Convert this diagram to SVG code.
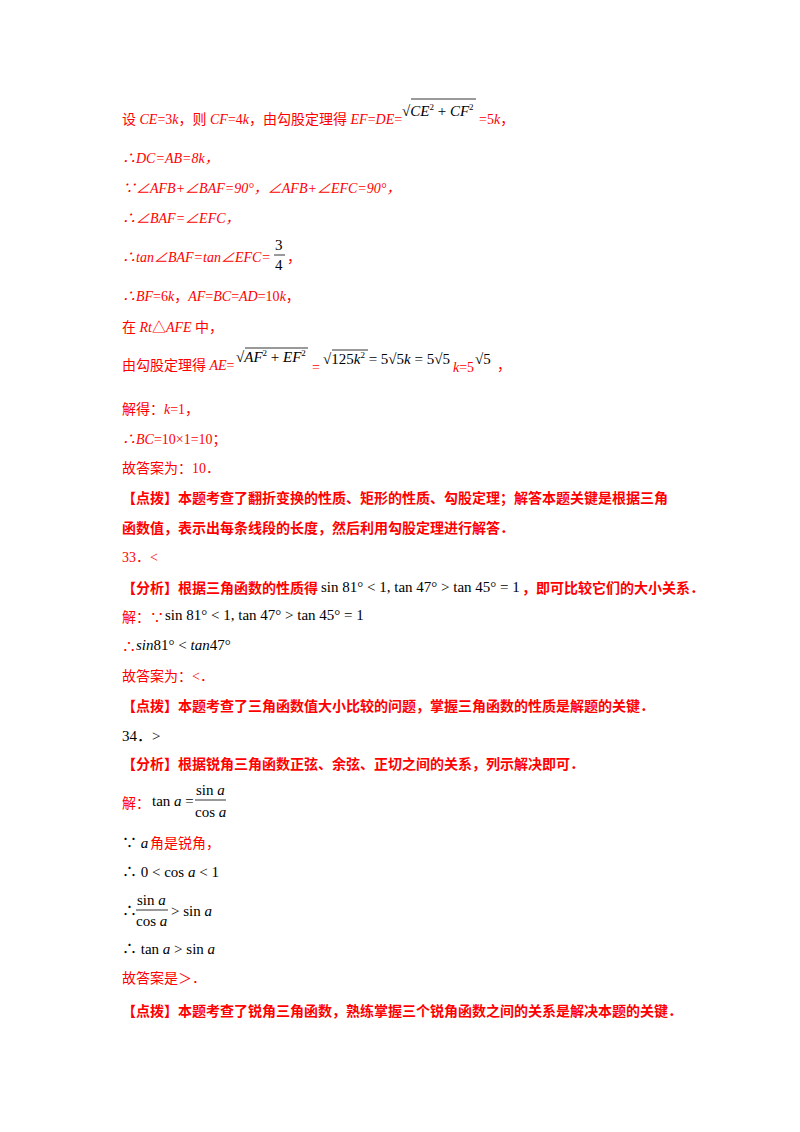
<svg xmlns="http://www.w3.org/2000/svg" width="800" height="1132" viewBox="0 0 800 1132">
<style>
.r{fill:#ff0000;font-family:"Liberation Serif","Noto Sans CJK SC",serif;font-size:14px}
.rb{fill:#ff0000;font-family:"Noto Sans CJK SC",sans-serif;font-size:14px;font-weight:bold}
.k{fill:#000;font-family:"Liberation Serif","Noto Sans CJK SC",serif;font-size:15px}
.i{font-style:italic}
.s{font-size:9px}
.ov{stroke:#000;stroke-width:0.8;fill:none}
</style>
<rect width="800" height="1132" fill="#fff"/>
<text class="r" x="122" y="124">设 <tspan class="i">CE</tspan>=3<tspan class="i">k</tspan>，则 <tspan class="i">CF</tspan>=4<tspan class="i">k</tspan>，由勾股定理得 <tspan class="i">EF</tspan>=<tspan class="i">DE</tspan>=</text>
<text class="k" x="402" y="116">√<tspan class="i">CE</tspan><tspan class="s" dy="-6">2</tspan><tspan dy="6"> + </tspan><tspan class="i">CF</tspan><tspan class="s" dy="-6">2</tspan></text>
<path class="ov" d="M411 99H476"/>
<text class="r" x="479" y="124">=5<tspan class="i">k</tspan>，</text>
<text class="r i" x="122" y="163">∴DC=AB=8k，</text>
<text class="r i" x="122" y="193">∵∠AFB+∠BAF=90°，∠AFB+∠EFC=90°，</text>
<text class="r i" x="122" y="223">∴∠BAF=∠EFC，</text>
<text class="r" x="122" y="262"><tspan class="i">∴tan∠BAF=tan∠EFC=</tspan></text>
<text class="k" x="275" y="250">3</text><path class="ov" d="M274 255H285"/><text class="k" x="275" y="270">4</text>
<text class="r" x="287" y="262">，</text>
<text class="r" x="122" y="301"><tspan class="i">∴BF</tspan>=6<tspan class="i">k</tspan>，<tspan class="i">AF</tspan>=<tspan class="i">BC</tspan>=<tspan class="i">AD</tspan>=10<tspan class="i">k</tspan>，</text>
<text class="r" x="122" y="332">在 <tspan class="i">Rt</tspan>△<tspan class="i">AFE</tspan> 中，</text>
<text class="r" x="122" y="370">由勾股定理得 <tspan class="i">AE</tspan>=</text>
<text class="k" x="236" y="362">√<tspan class="i">AF</tspan><tspan class="s" dy="-6">2</tspan><tspan dy="6"> + </tspan><tspan class="i">EF</tspan><tspan class="s" dy="-6">2</tspan></text>
<path class="ov" d="M245 348H308"/>
<text class="r" x="312" y="372">=</text>
<text class="k" x="323" y="364">√125<tspan class="i">k</tspan><tspan class="s" dy="-6">2</tspan><tspan dy="6"> = 5√5</tspan><tspan class="i">k</tspan> = 5√5</text>
<path class="ov" d="M332 350H368"/>
<text class="r" x="453" y="372"><tspan class="i">k</tspan>=5</text>
<text class="k" x="475" y="364">√5</text>
<text class="r" x="497" y="370">，</text>
<text class="r" x="122" y="414">解得：<tspan class="i">k</tspan>=1，</text>
<text class="r" x="122" y="444"><tspan class="i">∴BC</tspan>=10×1=10；</text>
<text class="r" x="122" y="473">故答案为：10．</text>
<text class="rb" x="122" y="503">【点拨】本题考查了翻折变换的性质、矩形的性质、勾股定理；解答本题关键是根据三角</text>
<text class="rb" x="122" y="533">函数值，表示出每条线段的长度，然后利用勾股定理进行解答．</text>
<text class="r" x="122" y="562">33．&lt;</text>
<text class="rb" x="122" y="593">【分析】根据三角函数的性质得</text>
<text class="k" x="321" y="592">sin 81° &lt; 1, tan 47° &gt; tan 45° = 1</text>
<text class="rb" x="522" y="593">，即可比较它们的大小关系．</text>
<text class="r" x="122" y="622">解：∵</text>
<text class="k" x="165" y="620">sin 81° &lt; 1, tan 47° &gt; tan 45° = 1</text>
<text class="r" x="122" y="651">∴</text>
<text class="k" x="136" y="650"><tspan class="i">sin</tspan>81° &lt; <tspan class="i">tan</tspan>47°</text>
<text class="r" x="122" y="681">故答案为：&lt;．</text>
<text class="rb" x="122" y="711">【点拨】本题考查了三角函数值大小比较的问题，掌握三角函数的性质是解题的关键．</text>
<text class="k" x="122" y="741">34．&gt;</text>
<text class="rb" x="122" y="769">【分析】根据锐角三角函数正弦、余弦、正切之间的关系，列示解决即可．</text>
<text class="r" x="122" y="808">解：</text>
<text class="k" x="152" y="806">tan <tspan class="i">a</tspan> =</text>
<text class="k" x="196" y="795">sin <tspan class="i">a</tspan></text><path class="ov" d="M195 800H226"/><text class="k" x="195" y="817">cos <tspan class="i">a</tspan></text>
<text class="k" x="122" y="848">∵ <tspan class="i">a</tspan></text><text class="r" x="150" y="848">角是锐角，</text>
<text class="k" x="122" y="877">∴ 0 &lt; cos <tspan class="i">a</tspan> &lt; 1</text>
<text class="k" x="122" y="916">∴</text>
<text class="k" x="137" y="905">sin <tspan class="i">a</tspan></text><path class="ov" d="M136 910H168"/><text class="k" x="136" y="926">cos <tspan class="i">a</tspan></text>
<text class="k" x="171" y="916">&gt; sin <tspan class="i">a</tspan></text>
<text class="k" x="122" y="954">∴ tan <tspan class="i">a</tspan> &gt; sin <tspan class="i">a</tspan></text>
<text class="r" x="122" y="983">故答案是＞．</text>
<text class="rb" x="122" y="1016">【点拨】本题考查了锐角三角函数，熟练掌握三个锐角函数之间的关系是解决本题的关键．</text>
</svg>
